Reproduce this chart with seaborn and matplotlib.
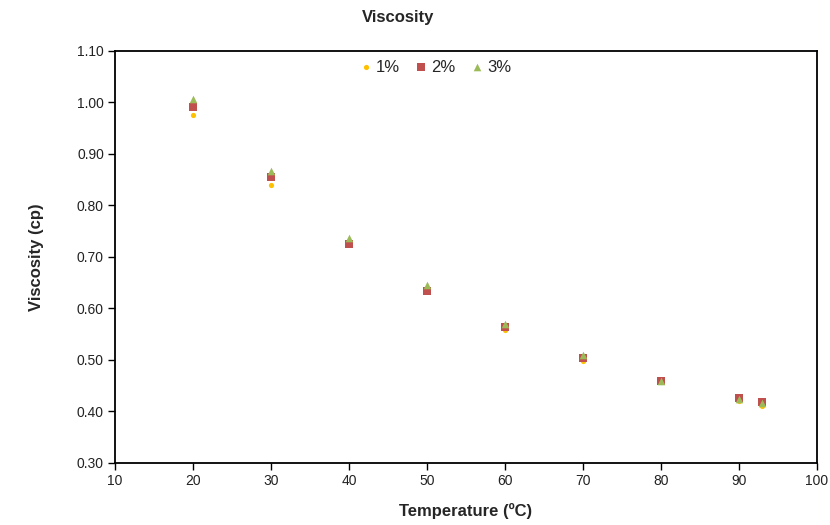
import matplotlib
matplotlib.use("Agg")
import matplotlib.pyplot as plt
import seaborn as sns
import pandas as pd

temperature = [20, 30, 40, 50, 60, 70, 80, 90, 93]
visc_1 = [0.976, 0.840, 0.725, 0.633, 0.558, 0.498, 0.457, 0.421, 0.411]
visc_2 = [0.991, 0.855, 0.725, 0.634, 0.564, 0.504, 0.459, 0.426, 0.418]
visc_3 = [1.007, 0.866, 0.737, 0.645, 0.570, 0.510, 0.460, 0.425, 0.417]
series = ["1%", "2%", "3%"]
colors = ["#FFC000", "#C0504D", "#9BBB59"]
markers = ["o", "s", "^"]
sizes = [14, 26, 30]

sns.set_theme(style="white")
plt.rcParams['font.family'] = ['Liberation Sans', 'DejaVu Sans']

rows = []
for name, vals in zip(series, [visc_1, visc_2, visc_3]):
    for t, v in zip(temperature, vals):
        rows.append({"Temperature": t, "Viscosity": v, "Series": name})
df = pd.DataFrame(rows)

fig = plt.figure(figsize=(8.3, 5.25), dpi=100)
ax = fig.add_axes([0.1386, 0.1181, 0.8457, 0.7848])

for name, c, m, s in zip(series, colors, markers, sizes):
    sub = df[df["Series"] == name]
    sns.scatterplot(data=sub, x="Temperature", y="Viscosity", color=c, marker=m,
                    s=s, linewidth=0, ax=ax, label=name)

ax.set_xlim(10, 100)
ax.set_ylim(0.30, 1.10)
ax.set_xticks(range(10, 101, 10))
ax.set_yticks([0.30 + 0.1 * i for i in range(9)])
ax.set_yticklabels([f"{0.30 + 0.1 * i:.2f}" for i in range(9)])
ax.tick_params(axis="both", direction="out", length=5, width=1, color="black",
               labelsize=10, labelcolor="#222222", bottom=True, left=True, pad=3)
for sp in ax.spines.values():
    sp.set_color("black")
    sp.set_linewidth(1.3)

ax.set_xlabel("Temperature (ºC)", fontsize=12, fontweight="bold", labelpad=11)
ax.set_ylabel("Viscosity (cp)", fontsize=12, fontweight="bold", labelpad=24)
fig.text(0.48, 0.966, "Viscosity", ha="center", va="center", fontsize=12, fontweight="bold")

leg = ax.legend(loc="center", bbox_to_anchor=(0.456, 0.961), ncol=3, frameon=False,
                fontsize=12, handletextpad=0.2, columnspacing=0.9, handlelength=0.8,
                borderpad=0.1)

fig.savefig("out.png", dpi=100)
